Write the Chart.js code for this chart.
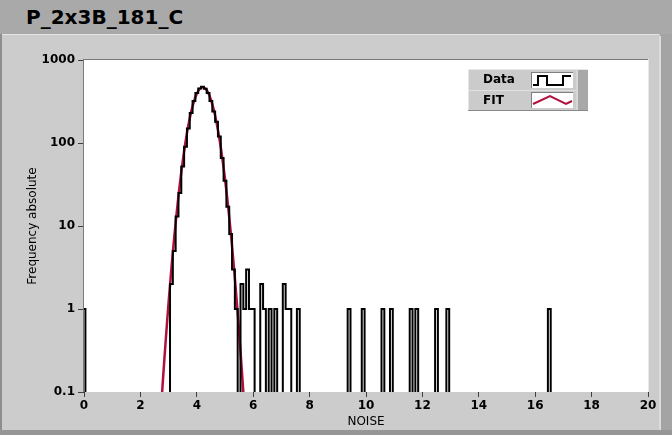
<!DOCTYPE html>
<html>
<head>
<meta charset="utf-8">
<script src="https://cdn.jsdelivr.net/npm/chart.js@4.4.1/dist/chart.umd.min.js"></script>
<style>
  html, body { margin: 0; padding: 0; }
  body { width: 672px; height: 435px; background: #cccccc; position: relative; overflow: hidden; }
  #titlebar { position: absolute; left: 0; top: 0; width: 672px; height: 34px; background: #a9a9a9; z-index: 2; }
  #titlebar span { position: absolute; left: 26px; top: 5px; font: bold 20px "DejaVu Sans", sans-serif; color: #000; }
  #wrap { position: absolute; left: 0; top: 0; width: 672px; height: 435px; }
</style>
</head>
<body>
<div id="titlebar"><span>P_2x3B_181_C</span></div>
<div id="wrap"><canvas id="noiseChart" width="672" height="435"></canvas></div>
<script>
// histogram bins (bin centres, width 0.1) and counts
const binWidth = 0.1;
const binX = [0,
  3.1, 3.2, 3.3, 3.4, 3.5, 3.6, 3.7, 3.8, 3.9, 4.0, 4.1, 4.2,
  4.3, 4.4, 4.5, 4.6, 4.7, 4.8, 4.9, 5.0, 5.1, 5.2, 5.3, 5.4,
  5.6, 5.7, 5.8, 5.9, 6.0,
  6.3, 6.4, 6.6, 6.8,
  7.1, 7.2, 7.3, 7.6,
  9.4, 9.9, 10.6, 10.9, 11.6, 11.8, 12.5, 12.9, 16.5];
const binY = [1,
  2, 5, 13, 25, 52, 90, 150, 230, 320, 400, 455, 475,
  450, 400, 320, 240, 180, 120, 66, 35, 17, 8, 3, 1,
  2, 1, 3, 1, 1,
  2, 1, 1, 1,
  2, 1, 1, 1,
  1, 1, 1, 1, 1, 1, 1, 1, 1];

// gaussian fit curve
const fitX = [2.7, 2.8, 2.9, 3.0, 3.1, 3.2, 3.3, 3.4, 3.5, 3.6, 3.7, 3.8, 3.9, 4.0, 4.1, 4.2,
  4.3, 4.4, 4.5, 4.6, 4.7, 4.8, 4.9, 5.0, 5.1, 5.2, 5.3, 5.4, 5.5, 5.6, 5.7];
const fitY = [0.043, 0.141, 0.429, 1.20, 3.09, 7.34, 16.0, 32.4, 60.1, 103, 163, 237, 318, 393, 447, 470,
  455, 406, 334, 253, 177, 114, 67.4, 36.9, 18.6, 8.63, 3.70, 1.46, 0.53, 0.178, 0.055];

const xTicks = [0, 2, 4, 6, 8, 10, 12, 14, 16, 18, 20];
const yTicks = [0.1, 1, 10, 100, 1000];

const FIT_COLOR = '#b0103c';
const FONT = 'DejaVu Sans';
// empty bins sit below the log axis floor and get clipped at the plot edge
const FLOOR = yTicks[0] / 10;

// turn bins into a stepped outline, breaking between separate runs
function buildSteps(xs, ys) {
  const pts = [];
  let i = 0;
  while (i < xs.length) {
    let j = i;
    while (j + 1 < xs.length && Math.round((xs[j + 1] - xs[j]) / binWidth) === 1) j++;
    pts.push({ x: xs[i] - binWidth / 2, y: FLOOR });
    for (let k = i; k <= j; k++) pts.push({ x: xs[k] - binWidth / 2, y: ys[k] });
    pts.push({ x: xs[j] + binWidth / 2, y: FLOOR });
    pts.push({ x: xs[j] + binWidth / 2, y: null });
    i = j + 1;
  }
  return pts;
}

const panelPlugin = {
  id: 'panel',
  beforeDraw(chart) {
    const c = chart.ctx;
    const a = chart.chartArea;
    c.save();
    c.fillStyle = '#cccccc';
    c.fillRect(0, 0, 672, 435);
    // panel edges
    c.fillStyle = '#8e8e8e';
    c.fillRect(0, 34, 2, 401);
    c.fillStyle = '#e4e4e4';
    c.fillRect(2, 34, 656, 1);
    c.fillStyle = '#a4a4a4';
    c.fillRect(660, 34, 12, 401);
    c.fillStyle = '#dcdcdc';
    c.fillRect(659, 36, 2, 399);
    c.fillStyle = '#969696';
    c.fillRect(0, 430, 672, 5);
    // plot area
    c.fillStyle = '#ffffff';
    c.fillRect(a.left, a.top, a.right - a.left, a.bottom - a.top);
    c.restore();
  },
  afterDraw(chart) {
    const c = chart.ctx;
    const a = chart.chartArea;
    c.save();
    c.fillStyle = '#7a7a7a';
    c.fillRect(a.left - 1, a.top - 1, a.right - a.left + 1, 1);
    c.fillRect(a.left - 1, a.top - 1, 1, a.bottom - a.top + 1);
    c.fillStyle = '#e8e8e8';
    c.fillRect(a.right, a.top - 1, 1, a.bottom - a.top + 1);

    // legend box
    const lx = 468, ly = 69, lw = 120, lh = 42;
    c.fillStyle = '#cbcbcb';
    c.fillRect(lx, ly, lw, lh);
    c.fillStyle = '#e6e6e6';
    c.fillRect(lx, ly, lw, 1);
    c.fillRect(lx, ly, 1, lh);
    c.fillStyle = '#8a8a8a';
    c.fillRect(lx, ly + lh - 1, lw, 1);
    c.fillStyle = '#a8a8a8';
    c.fillRect(lx + 108, ly + 1, 12, lh - 2);
    c.fillStyle = '#d6d6d6';
    c.fillRect(lx + 108, ly + 1, 2, lh - 2);
    c.fillStyle = '#e0e0e0';
    c.fillRect(lx + 1, ly + 21, 107, 1);

    c.fillStyle = '#ffffff';
    c.fillRect(532, 73, 41, 15);
    c.fillRect(532, 93, 41, 15);
    c.fillStyle = '#808080';
    c.fillRect(531, 72, 42, 1);
    c.fillRect(531, 72, 1, 16);
    c.fillRect(531, 92, 42, 1);
    c.fillRect(531, 92, 1, 16);

    c.fillStyle = '#000000';
    c.font = 'bold 12px "' + FONT + '"';
    c.textBaseline = 'middle';
    c.textAlign = 'left';
    c.fillText('Data', 483, 80);
    c.fillText('FIT', 483, 101);

    c.lineWidth = 2;
    c.strokeStyle = '#000000';
    c.beginPath();
    c.moveTo(533, 85); c.lineTo(538, 85); c.lineTo(538, 76); c.lineTo(547, 76);
    c.lineTo(547, 85); c.lineTo(563, 85); c.lineTo(563, 76); c.lineTo(571, 76);
    c.stroke();
    c.strokeStyle = FIT_COLOR;
    c.beginPath();
    c.moveTo(533, 104); c.lineTo(550, 96); c.lineTo(566, 104); c.lineTo(572, 101);
    c.stroke();
    c.restore();
  }
};

Chart.defaults.font.family = FONT;
Chart.defaults.color = '#000000';

new Chart(document.getElementById('noiseChart'), {
  type: 'line',
  data: {
    datasets: [
      {
        label: 'Data',
        data: buildSteps(binX, binY),
        borderColor: '#000000',
        borderWidth: 2,
        stepped: 'before',
        pointRadius: 0,
        spanGaps: false,
        order: 0
      },
      {
        label: 'FIT',
        data: fitX.map((x, i) => ({ x: x, y: fitY[i] })),
        borderColor: FIT_COLOR,
        borderWidth: 2.5,
        tension: 0.3,
        pointRadius: 0,
        order: 1
      }
    ]
  },
  options: {
    responsive: false,
    animation: false,
    events: [],
    layout: { padding: { left: 0, top: 60, right: 24, bottom: 0 } },
    plugins: {
      legend: { display: false },
      tooltip: { enabled: false }
    },
    scales: {
      x: {
        type: 'linear',
        min: 0,
        max: 20,
        afterFit: s => { s.height = 43; },
        afterBuildTicks: s => { s.ticks = xTicks.map(v => ({ value: v })); },
        grid: { drawOnChartArea: false, color: '#404040', tickLength: 5 },
        border: { display: false },
        ticks: { font: { size: 12, weight: 'bold' }, padding: 2, maxRotation: 0, autoSkip: false },
        title: { display: true, text: 'NOISE', font: { size: 12 }, padding: { top: 0, bottom: 6 } }
      },
      y: {
        type: 'logarithmic',
        min: 0.1,
        max: 1000,
        afterFit: s => { s.width = 84; },
        afterBuildTicks: s => { s.ticks = yTicks.map(v => ({ value: v })); },
        grid: { drawOnChartArea: false, color: '#404040', tickLength: 6 },
        border: { display: false },
        ticks: {
          font: { size: 12, weight: 'bold' },
          padding: 3,
          autoSkip: false,
          callback: v => String(v)
        },
        title: { display: true, text: 'Frequency absolute', font: { size: 12 }, padding: { top: 26, bottom: 0 } }
      }
    }
  },
  plugins: [panelPlugin]
});
</script>
</body>
</html>
